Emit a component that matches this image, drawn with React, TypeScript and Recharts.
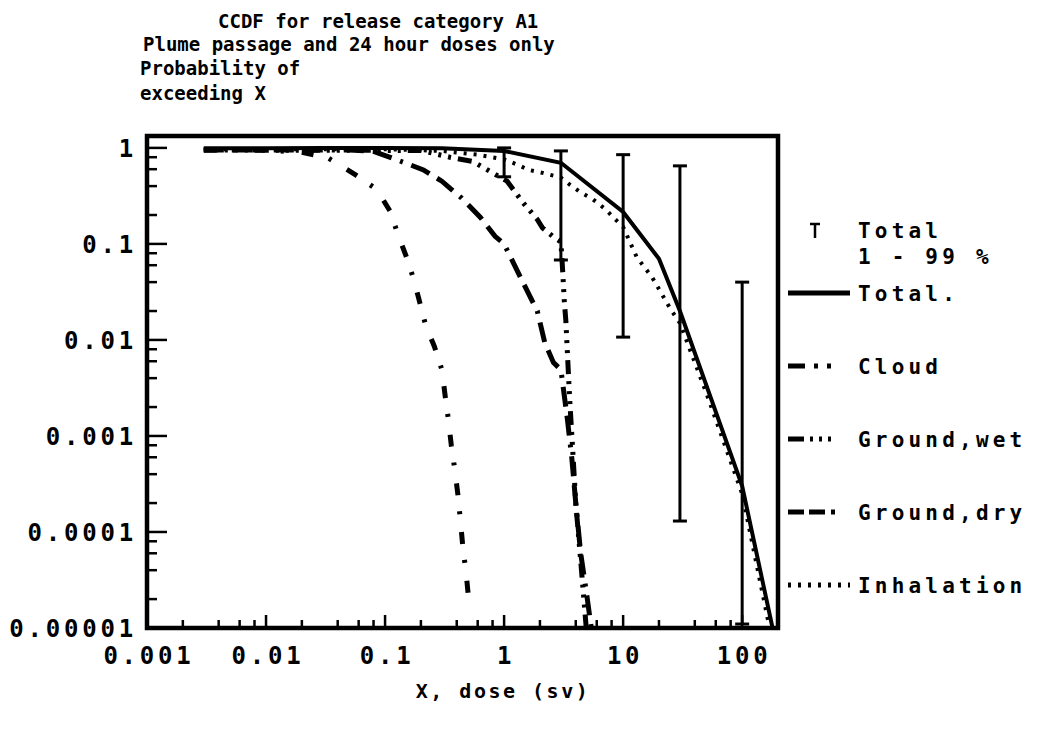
import {
  ComposedChart,
  Line,
  Scatter,
  ErrorBar,
  XAxis,
  YAxis,
  ReferenceArea,
  Legend,
} from "recharts";

const FONT = '"DejaVu Sans Mono", monospace';

// axis ticks
const xMajor = [0.001, 0.01, 0.1, 1, 10, 100];
const xMajorLabels = ["0.001", "0.01", "0.1", "1", "10", "100"];
const yMajor = [1, 0.1, 0.01, 0.001, 0.0001, 0.00001];
const yMajorLabels = ["1", "0.1", "0.01", "0.001", "0.0001", "0.00001"];
const minorSteps = [2, 4, 6, 8];

// CCDF curves (dose Sv, probability)
const totalX = [0.003, 0.01, 0.03, 0.1, 0.3, 1, 3, 10, 20, 30, 100, 180];
const totalY = [0.99, 0.99, 1.0, 1.0, 0.99, 0.93, 0.7, 0.215, 0.07, 0.02, 0.0003, 0.00001];

const cloudX = [0.003, 0.01, 0.02, 0.033, 0.057, 0.085, 0.11, 0.13, 0.15, 0.175, 0.22, 0.26, 0.3, 0.32, 0.34, 0.36, 0.385, 0.41, 0.43, 0.45, 0.48, 0.5];
const cloudY = [0.95, 0.95, 0.9, 0.79, 0.52, 0.37, 0.22, 0.12, 0.075, 0.042, 0.014, 0.0085, 0.0049, 0.0026, 0.0015, 0.0008, 0.00045, 0.00024, 0.00013, 0.00007, 0.000037, 0.000022];

const wetX = [0.003, 0.2, 0.35, 0.55, 1.06, 1.44, 1.9, 2.1, 2.6, 3.0, 3.1, 3.2, 3.3, 3.4, 3.55, 3.75, 4.0, 4.4, 4.9];
const wetY = [0.95, 0.94, 0.8, 0.72, 0.45, 0.27, 0.18, 0.147, 0.118, 0.105, 0.054, 0.026, 0.016, 0.0075, 0.0025, 0.0008, 0.0002, 0.00005, 0.00001];

const dryX = [0.003, 0.05, 0.08, 0.13, 0.21, 0.3, 0.44, 0.63, 0.84, 1.0, 1.37, 1.9, 2.2, 2.6, 3.0, 3.4, 3.7, 4.0, 4.4, 4.95, 5.4];
const dryY = [0.95, 0.95, 0.92, 0.74, 0.59, 0.45, 0.3, 0.19, 0.12, 0.1, 0.045, 0.02, 0.0093, 0.0058, 0.0049, 0.0015, 0.0006, 0.0002, 0.00006, 0.000022, 0.00001];

const inhX = [0.003, 0.1, 0.3, 0.6, 1.0, 1.33, 1.6, 2.1, 3.0, 3.6, 4.3, 5.6, 7.1, 8.6, 10, 13, 17.5, 25, 30, 50, 100, 170];
const inhY = [0.97, 0.97, 0.93, 0.85, 0.76, 0.66, 0.59, 0.55, 0.49, 0.41, 0.35, 0.29, 0.23, 0.18, 0.15, 0.073, 0.045, 0.021, 0.015, 0.0028, 0.00025, 0.00001];

// Total 1 - 99 % bands
const errX = [1, 3, 10, 30, 100];
const errLow = [0.5, 0.068, 0.0107, 0.00013, 0.000011];
const errHigh = [1.0, 0.93, 0.85, 0.65, 0.04];

const legendRows = ["Total.", "Cloud", "Ground,wet", "Ground,dry", "Inhalation"];

const toPoints = (xs: number[], ys: number[]) => xs.map((x, i) => ({ x, y: ys[i] }));

const xTicks = [
  ...xMajor,
  ...xMajor.flatMap((m) => minorSteps.map((s) => m * s)).filter((v) => v < 200),
];
const yTicks = [
  ...yMajor,
  ...yMajor.slice(1).flatMap((m) => minorSteps.map((s) => m * s)),
];

const errData = errX.map((x, i) => ({
  x,
  y: errHigh[i],
  err: [errHigh[i] - errLow[i], 0],
}));

const series = [
  { name: "Total.", data: toPoints(totalX, totalY), dash: undefined, width: 4 },
  { name: "Cloud", data: toPoints(cloudX, cloudY), dash: "12 16 3 18", width: 5 },
  { name: "Ground,wet", data: toPoints(wetX, wetY), dash: "14 7 3 7 3 7 3 7", width: 5 },
  { name: "Ground,dry", data: toPoints(dryX, dryY), dash: "20 9 20 9 3 9", width: 5 },
  { name: "Inhalation", data: toPoints(inhX, inhY), dash: "3 7", width: 4 },
];

const legendDash: Record<string, string | undefined> = {
  "Total.": undefined,
  Cloud: "17 9 4 9 4 40",
  "Ground,wet": "16 6 3 6 3 6 3 40",
  "Ground,dry": "16 5 16 6 4 40",
  Inhalation: "3 7",
};

const titleStyle = {
  fontFamily: FONT,
  fontSize: 19,
  fontWeight: 700,
  fill: "#000",
};

const tickStyle = {
  fontFamily: FONT,
  fontSize: 24,
  fontWeight: 700,
  letterSpacing: 3.8,
  fill: "#000",
};

const legendStyle = {
  fontFamily: FONT,
  fontSize: 21,
  fontWeight: 700,
  letterSpacing: 4.2,
  fill: "#000",
};

const XTick = (props: any) => {
  const { x, y, payload } = props;
  const i = xMajor.indexOf(payload.value);
  const major = i >= 0;
  return (
    <g>
      <line x1={x} x2={x} y1={y} y2={y - (major ? 13 : 8)} stroke="#000" strokeWidth={2.5} />
      {major && (
        <text x={x + 2} y={y + 36} textAnchor="middle" style={tickStyle}>
          {xMajorLabels[i]}
        </text>
      )}
    </g>
  );
};

const YTick = (props: any) => {
  const { x, y, payload } = props;
  const i = yMajor.indexOf(payload.value);
  const major = i >= 0;
  return (
    <g>
      <line x1={x} x2={x + (major ? 20 : 10)} y1={y} y2={y} stroke="#000" strokeWidth={2.5} />
      {major && (
        <text x={x - 10} y={y + 9} textAnchor="end" style={tickStyle}>
          {yMajorLabels[i]}
        </text>
      )}
    </g>
  );
};

const rowY = [78, 151, 224, 297, 370];

const LegendBox = () => (
  <svg width={259} height={400} style={{ display: "block" }}>
    <line x1={29} x2={29} y1={9} y2={23} stroke="#000" strokeWidth={2.5} />
    <line x1={24} x2={34} y1={9} y2={9} stroke="#000" strokeWidth={2.5} />
    <text x={72} y={23} style={legendStyle}>Total</text>
    <text x={72} y={49} style={legendStyle}>1 - 99 %</text>
    {legendRows.map((name, i) => (
      <g key={name}>
        <line
          x1={2}
          x2={64}
          y1={rowY[i]}
          y2={rowY[i]}
          stroke="#000"
          strokeWidth={5}
          strokeDasharray={legendDash[name]}
        />
        <text x={72} y={rowY[i] + 8} style={legendStyle}>
          {name}
        </text>
      </g>
    ))}
  </svg>
);

export default function App() {
  return (
    <div style={{ position: "absolute", left: 0, top: 0, width: 1045, height: 739, background: "#fff" }}>
      <ComposedChart
        width={1045}
        height={739}
        margin={{ top: 136, right: 267, bottom: 71, left: 0 }}
      >
        <XAxis
          dataKey="x"
          type="number"
          scale="log"
          domain={[0.001, 200]}
          allowDataOverflow
          ticks={xTicks}
          interval={0}
          height={40}
          axisLine={false}
          tickLine={false}
          tickSize={0}
          tickMargin={0}
          tick={<XTick />}
        />
        <YAxis
          dataKey="y"
          type="number"
          scale="log"
          domain={[0.00001, 1.33]}
          allowDataOverflow
          ticks={yTicks}
          interval={0}
          width={147}
          axisLine={false}
          tickLine={false}
          tickSize={0}
          tickMargin={0}
          tick={<YTick />}
        />
        {series.map((s) => (
          <Line
            key={s.name}
            name={s.name}
            data={s.data}
            dataKey="y"
            type="linear"
            stroke="#000"
            strokeWidth={s.width}
            strokeDasharray={s.dash}
            dot={false}
            activeDot={false}
            isAnimationActive={false}
          />
        ))}
        <Scatter name="Total 1 - 99 %" data={errData} dataKey="y" shape={() => <g />} isAnimationActive={false}>
          <ErrorBar dataKey="err" direction="y" width={7} stroke="#000" strokeWidth={3} isAnimationActive={false} />
        </Scatter>
        <ReferenceArea
          x1={0.001}
          x2={200}
          y1={0.00001}
          y2={1.33}
          fill="none"
          fillOpacity={0}
          stroke="#000"
          strokeWidth={4.5}
          ifOverflow="visible"
        />
        <Legend
          layout="vertical"
          align="center"
          verticalAlign="middle"
          wrapperStyle={{ left: 786, top: 215, width: 259 }}
          content={() => <LegendBox />}
        />
      </ComposedChart>
      <svg
        width={1045}
        height={739}
        style={{ position: "absolute", left: 0, top: 0, pointerEvents: "none" }}
      >
        <text x={218} y={28} style={titleStyle}>CCDF for release category A1</text>
        <text x={143} y={51} style={titleStyle}>Plume passage and 24 hour doses only</text>
        <text x={140} y={75} style={titleStyle}>Probability of</text>
        <text x={140} y={100} style={titleStyle}>exceeding X</text>
        <text x={503} y={698} textAnchor="middle" style={{ ...titleStyle, fontSize: 20, letterSpacing: 2.5 }}>
          X, dose (sv)
        </text>
      </svg>
    </div>
  );
}
